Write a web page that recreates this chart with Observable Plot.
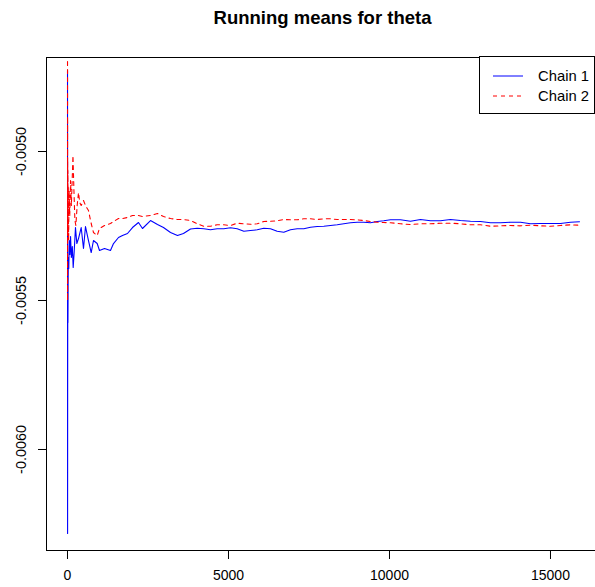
<!DOCTYPE html>
<html>
<head>
<meta charset="utf-8">
<script src="https://cdn.jsdelivr.net/npm/d3@7"></script>
<script src="https://cdn.jsdelivr.net/npm/@observablehq/plot@0.6"></script>
<style>
  body { margin: 0; background: #fff; font-family: "Liberation Sans", Arial, Helvetica, sans-serif; }
  #wrap { position: relative; width: 595px; height: 587px; overflow: hidden; background: #fff; }
  #title { height: 40px; box-sizing: border-box; padding: 8.9px 0 0 50px; font-size: 18.5px; line-height: 18.5px; font-weight: bold; text-align: center; color: #000; }
  #legend { position: absolute; left: 479px; top: 56px; width: 116px; height: 58px; box-sizing: border-box; border: 1px solid #000; background: #fff; }
</style>
</head>
<body>
<div id="wrap">
  <div id="title">Running means for theta</div>
  <div id="chart"></div>
  <div id="legend"></div>
</div>
<script>
// Running means of theta, two MCMC chains (iteration, cumulative mean)
const chain1Iter = [1, 2, 3, 4, 5, 7, 10, 14, 20, 28, 40, 55, 75, 95, 120, 150, 177, 210, 248, 290, 342, 425, 497, 559, 652, 736, 807, 922, 994, 1149, 1335, 1429, 1584, 1708, 1863, 2019, 2205, 2329, 2578, 2795, 2981, 3199, 3416, 3602, 3820, 4027, 4234, 4441, 4648, 4855, 5062, 5270, 5477, 5683, 5891, 6097, 6304, 6512, 6718, 6925, 7134, 7339, 7547, 7755, 7960, 8168, 8376, 8581, 8789, 8997, 9202, 9410, 9618, 9823, 10031, 10342, 10652, 10963, 11273, 11584, 11894, 12205, 12516, 12826, 13137, 13447, 13758, 14068, 14379, 14689, 15000, 15311, 15621, 15900];
const chain1Mean = [-0.0047282, -0.0053792, -0.0062820, -0.0060773, -0.0058021, -0.0056175, -0.0054766, -0.0055739, -0.0054430, -0.0053557, -0.0053927, -0.0052987, -0.0053457, -0.0052853, -0.0053557, -0.0053188, -0.0053893, -0.0053322, -0.0052551, -0.0053088, -0.0052920, -0.0052551, -0.0053255, -0.0052517, -0.0052987, -0.0053390, -0.0052987, -0.0053088, -0.0053322, -0.0053255, -0.0053322, -0.0053088, -0.0052886, -0.0052819, -0.0052752, -0.0052551, -0.0052383, -0.0052584, -0.0052316, -0.0052450, -0.0052551, -0.0052718, -0.0052819, -0.0052752, -0.0052601, -0.0052574, -0.0052594, -0.0052628, -0.0052594, -0.0052594, -0.0052561, -0.0052594, -0.0052675, -0.0052651, -0.0052628, -0.0052574, -0.0052594, -0.0052675, -0.0052708, -0.0052628, -0.0052594, -0.0052594, -0.0052540, -0.0052517, -0.0052507, -0.0052483, -0.0052460, -0.0052426, -0.0052393, -0.0052373, -0.0052373, -0.0052393, -0.0052349, -0.0052326, -0.0052289, -0.0052292, -0.0052339, -0.0052282, -0.0052326, -0.0052326, -0.0052282, -0.0052316, -0.0052339, -0.0052349, -0.0052393, -0.0052393, -0.0052373, -0.0052373, -0.0052426, -0.0052416, -0.0052416, -0.0052416, -0.0052373, -0.0052359];

const chain2Iter = [1, 2, 3, 4, 6, 9, 13, 18, 25, 35, 50, 70, 95, 120, 150, 170, 200, 230, 260, 300, 342, 380, 425, 497, 559, 652, 736, 807, 922, 994, 1149, 1335, 1429, 1584, 1708, 1863, 2019, 2205, 2329, 2578, 2795, 2981, 3199, 3416, 3602, 3820, 4027, 4234, 4441, 4648, 4855, 5062, 5270, 5477, 5683, 5891, 6097, 6304, 6512, 6718, 6925, 7134, 7339, 7547, 7755, 7960, 8168, 8376, 8581, 8789, 8997, 9202, 9410, 9618, 9823, 10031, 10342, 10652, 10963, 11273, 11584, 11894, 12205, 12516, 12826, 13137, 13447, 13758, 14068, 14379, 14689, 15000, 15311, 15621, 15900];
const chain2Mean = [-0.0046443, -0.0055000, -0.0048960, -0.0052651, -0.0050302, -0.0051980, -0.0050638, -0.0051644, -0.0051141, -0.0052987, -0.0051309, -0.0052148, -0.0050973, -0.0051812, -0.0050805, -0.0050134, -0.0051309, -0.0052316, -0.0052483, -0.0051812, -0.0051376, -0.0051712, -0.0051812, -0.0051644, -0.0051812, -0.0051980, -0.0052416, -0.0052718, -0.0052819, -0.0052584, -0.0052483, -0.0052416, -0.0052349, -0.0052249, -0.0052249, -0.0052215, -0.0052148, -0.0052148, -0.0052181, -0.0052148, -0.0052081, -0.0052181, -0.0052249, -0.0052282, -0.0052282, -0.0052316, -0.0052426, -0.0052507, -0.0052507, -0.0052460, -0.0052460, -0.0052483, -0.0052406, -0.0052426, -0.0052440, -0.0052426, -0.0052349, -0.0052339, -0.0052326, -0.0052282, -0.0052292, -0.0052292, -0.0052259, -0.0052259, -0.0052282, -0.0052259, -0.0052259, -0.0052282, -0.0052282, -0.0052282, -0.0052292, -0.0052316, -0.0052349, -0.0052373, -0.0052383, -0.0052389, -0.0052426, -0.0052450, -0.0052426, -0.0052426, -0.0052406, -0.0052406, -0.0052426, -0.0052460, -0.0052460, -0.0052507, -0.0052494, -0.0052483, -0.0052494, -0.0052473, -0.0052494, -0.0052507, -0.0052483, -0.0052460, -0.0052473];

const seriesNames = ["Chain 1", "Chain 2"];
const seriesColors = ["#0000ff", "#ff0000"];
const seriesDash = [null, "4,4"];
const xTicks = [0, 5000, 10000, 15000];
const yTicks = [-0.0060, -0.0055, -0.0050];

const chain1 = chain1Iter.map((it, i) => ({iter: it, mean: chain1Mean[i]}));
const chain2 = chain2Iter.map((it, i) => ({iter: it, mean: chain2Mean[i]}));

const chart = Plot.plot({
  width: 595,
  height: 547,
  marginTop: 17,
  marginBottom: 37,
  marginLeft: 46,
  marginRight: 0,
  style: {fontFamily: "'Liberation Sans', Arial, Helvetica, sans-serif", fontSize: "14px", color: "#000", background: "#fff"},
  x: {domain: [-652, 16398]},
  y: {domain: [-0.006339, -0.0046845]},
  marks: [
    Plot.line(chain1, {x: "iter", y: "mean", stroke: seriesColors[0], strokeWidth: 1.1, clip: true}),
    Plot.line(chain2, {x: "iter", y: "mean", stroke: seriesColors[1], strokeWidth: 1.1, strokeDasharray: seriesDash[1], clip: true}),
    Plot.frame({anchor: "left", stroke: "#000"}),
    Plot.frame({anchor: "top", stroke: "#000"}),
    Plot.frame({anchor: "bottom", stroke: "#000"}),
    Plot.axisX({ticks: xTicks, tickSize: 9, tickPadding: 11, tickFormat: d => String(d), label: null, fontSize: 14}),
    Plot.axisY({ticks: yTicks, tickSize: 8, tickPadding: 13, tickRotate: -90, tickFormat: d => d.toFixed(4), label: null, fontSize: 14.4})
  ]
});
document.getElementById("chart").appendChild(chart);

// Legend box: a line sample and name for each chain
const leg = d3.select("#legend").append("svg").attr("width", 116).attr("height", 58)
  .style("position", "absolute").style("left", "-1px").style("top", "-1px");
seriesNames.forEach((name, i) => {
  const cy = 20 + i * 20;
  leg.append("line").attr("x1", 14).attr("x2", 44).attr("y1", cy).attr("y2", cy)
    .attr("stroke", seriesColors[i]).attr("stroke-width", 1)
    .attr("stroke-dasharray", seriesDash[i]);
  leg.append("text").attr("x", 59).attr("y", cy + 5).text(name)
    .style("font-family", "'Liberation Sans', Arial, sans-serif").style("font-size", "14.8px").attr("fill", "#000");
});
</script>
</body>
</html>
